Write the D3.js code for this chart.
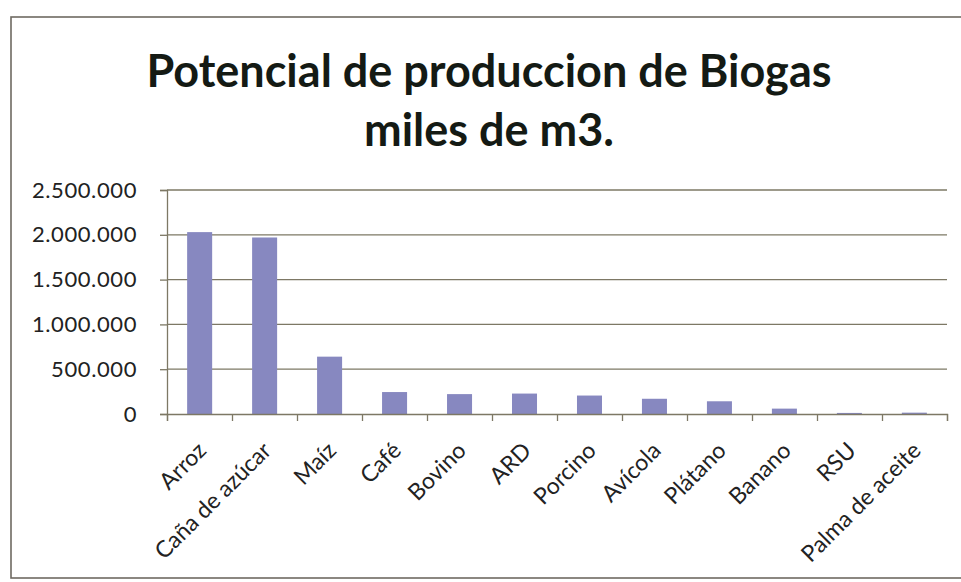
<!DOCTYPE html>
<html><head><meta charset="utf-8">
<script src="https://cdn.jsdelivr.net/npm/d3@7"></script>
<style>body{margin:0;background:#fff}svg{display:block}</style>
</head><body>
<svg id="c" width="961" height="582"></svg>
<script>
const categories = ["Arroz","Caña de azúcar","Maíz","Café","Bovino","ARD","Porcino","Avícola","Plátano","Banano","RSU","Palma de aceite"];
const values = [2030000,1970000,640000,245000,222000,228000,206000,170000,142000,60000,12000,15000];
const yTicks = [0,500000,1000000,1500000,2000000,2500000];
const titleLines = ["Potencial de produccion de Biogas","miles de m3."];

const svg = d3.select("#c");
const font = "Lato, 'Open Sans', sans-serif";
const loc = d3.formatLocale({decimal:",",thousands:".",grouping:[3],currency:["",""]});
const fmt = loc.format(",");

// frame
svg.append("rect").attr("x",11).attr("y",17).attr("width",980).attr("height",561)
  .attr("fill","#fff").attr("stroke","#6e6a62").attr("stroke-width",1.6);

// title
svg.append("g").selectAll("text").data(titleLines).join("text")
  .attr("x",489).attr("y",(d,i)=>87+i*59).attr("text-anchor","middle")
  .attr("font-family",font).attr("font-weight","bold").attr("font-size",45)
  .attr("fill","#141a14").text(d=>d);

const L=167, R=947, T=190, B=414;
const x = d3.scaleBand().domain(categories).range([L,R]).paddingInner(0.615).paddingOuter(0.31);
const y = d3.scaleLinear().domain([0,2500000]).range([B,T]);

// gridlines
svg.append("g").selectAll("line").data(yTicks.filter(d=>d>0)).join("line")
  .attr("x1",L).attr("x2",R).attr("y1",d=>y(d)).attr("y2",d=>y(d))
  .attr("stroke","#7d7865").attr("stroke-width",1.3);

// bars
svg.append("g").selectAll("rect").data(values).join("rect")
  .attr("x",(d,i)=>x(categories[i])).attr("width",x.bandwidth())
  .attr("y",d=>y(d)).attr("height",d=>B-y(d))
  .attr("fill","#8788c0");

// y axis
const ya = svg.append("g").attr("transform",`translate(${L},0)`)
  .call(d3.axisLeft(y).tickValues(yTicks).tickFormat(fmt).tickSize(7).tickPadding(23));
ya.select(".domain").attr("stroke","#7d7865").attr("stroke-width",1.3);
ya.selectAll(".tick line").attr("stroke","#7d7865").attr("stroke-width",1.3);
ya.selectAll("text").attr("font-family",font).attr("font-size",22)
  .attr("letter-spacing","0.6px").attr("fill","#222");

// x axis
const xb = d3.scaleLinear().domain([0,categories.length]).range([L,R]);
const xa = svg.append("g").attr("transform",`translate(0,${B})`)
  .call(d3.axisBottom(xb).tickValues(d3.range(0,categories.length+1)).tickFormat("").tickSize(7));
xa.select(".domain").attr("stroke","#7d7865").attr("stroke-width",1.3);
xa.selectAll(".tick line").attr("stroke","#7d7865").attr("stroke-width",1.3);

svg.append("g").selectAll("text").data(categories).join("text")
  .attr("transform",d=>`translate(${x(d)+x.bandwidth()/2+8},${B+38}) rotate(-45)`)
  .attr("text-anchor","end")
  .attr("font-family",font).attr("font-size",23).attr("fill","#222").text(d=>d);
</script>
</body></html>
